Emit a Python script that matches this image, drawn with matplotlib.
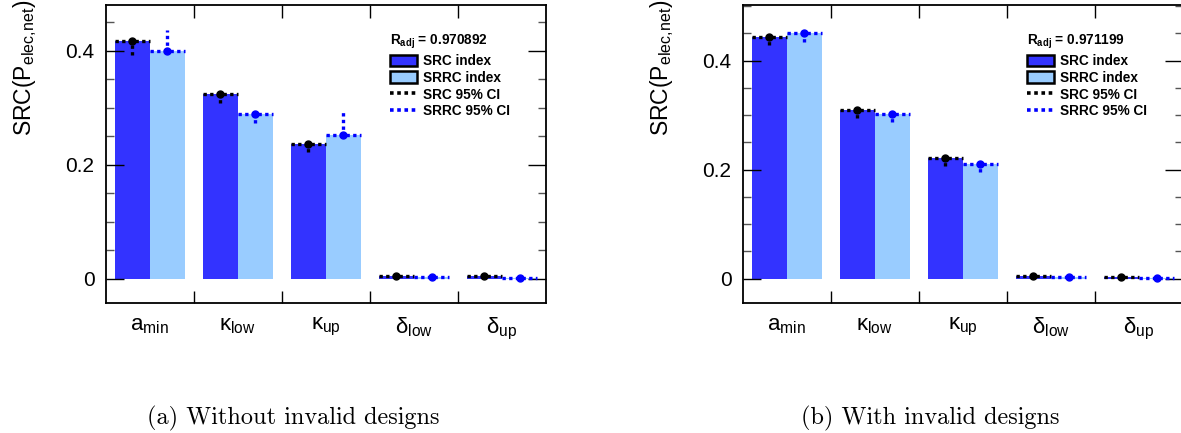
import matplotlib
matplotlib.use("Agg")
import matplotlib.pyplot as plt
from matplotlib.patches import Patch
from matplotlib.lines import Line2D
import numpy as np

plt.rcParams['font.family'] = ['Liberation Sans', 'DejaVu Sans']
plt.rcParams['mathtext.fontset'] = 'custom'
plt.rcParams['mathtext.rm'] = 'Liberation Sans'
plt.rcParams['mathtext.it'] = 'Liberation Sans'
plt.rcParams['mathtext.bf'] = 'Liberation Sans:bold'

# ---------------- data ----------------
categories = [r'$\mathregular{a_{min}}$', r'$\mathregular{κ_{low}}$', r'$\mathregular{κ_{up}}$',
              r'$\mathregular{δ_{low}}$', r'$\mathregular{δ_{up}}$']

# (a) without invalid designs
src_a = [0.4175, 0.3235, 0.236, 0.005, 0.004]
src_a_lo = [0.392, 0.309, 0.222, 0.004, 0.003]
src_a_hi = [0.420, 0.325, 0.238, 0.006, 0.005]
srrc_a = [0.400, 0.289, 0.2526, 0.003, 0.002]
srrc_a_lo = [0.398, 0.274, 0.251, 0.002, 0.001]
srrc_a_hi = [0.436, 0.291, 0.293, 0.004, 0.003]
radj_a = "0.970892"

# (b) with invalid designs
src_b = [0.444, 0.309, 0.2215, 0.005, 0.003]
src_b_lo = [0.428, 0.294, 0.207, 0.004, 0.002]
src_b_hi = [0.447, 0.311, 0.224, 0.006, 0.004]
srrc_b = [0.450, 0.302, 0.211, 0.004, 0.002]
srrc_b_lo = [0.434, 0.2875, 0.196, 0.003, 0.001]
srrc_b_hi = [0.452, 0.304, 0.213, 0.005, 0.003]
radj_b = "0.971199"

ytick_vals = [0, 0.2, 0.4]
ytick_labels = ['0', '0.2', '0.4']
captions = ['(a) Without invalid designs', '(b) With invalid designs']
legend_labels = ['SRC index', 'SRRC index', 'SRC 95% CI', 'SRRC 95% CI']

SRC_COL = '#3333ff'
SRRC_COL = '#99ccff'
CI_BLUE = '#0000ff'

W, H = 1181, 433
fig = plt.figure(figsize=(W / 100, H / 100), dpi=100)

ax_w = 440.3 / W
ax_h = 298.3 / H
ax_b = (H - 303) / H
axes_left = [105.7 / W, 742.7 / W]
caption_x = [293 / W, 930 / W]
ylims = [(-0.0426, 0.4807), (-0.0446, 0.5028)]

panels = [
    (src_a, src_a_lo, src_a_hi, srrc_a, srrc_a_lo, srrc_a_hi, radj_a),
    (src_b, src_b_lo, src_b_hi, srrc_b, srrc_b_lo, srrc_b_hi, radj_b),
]

dotted = (0, (1, 1))

for i, (src, slo, shi, srrc, rlo, rhi, radj) in enumerate(panels):
    ax = fig.add_axes([axes_left[i], ax_b, ax_w, ax_h])
    x = np.arange(len(categories)) + 0.5
    src = np.array(src); srrc = np.array(srrc)
    slo = np.array(slo); shi = np.array(shi)
    rlo = np.array(rlo); rhi = np.array(rhi)
    ax.bar(x - 0.2, src, width=0.4, color=SRC_COL, linewidth=0, zorder=1)
    ax.bar(x + 0.2, srrc, width=0.4, color=SRRC_COL, linewidth=0, zorder=1)
    for xx, v, lo, hi, col in ((x - 0.2, src, slo, shi, 'black'), (x + 0.2, srrc, rlo, rhi, CI_BLUE)):
        eb = ax.errorbar(xx, v, xerr=0.2, yerr=[v - lo, hi - v], fmt='o', color=col,
                         markersize=5, elinewidth=2.4, capsize=0, zorder=3)
        for lc in eb[2]:
            lc.set_linestyle(dotted)
            lc.set_capstyle('butt')

    ax.set_xlim(0, 5)
    ax.set_ylim(*ylims[i])
    ax.set_xticks([1, 2, 3, 4])
    ax.set_xticklabels([])
    ax.set_xticks(x, categories, minor=True)
    ax.tick_params(axis='x', which='major', direction='in', length=9, width=1,
                   top=True, bottom=True)
    ax.tick_params(axis='x', which='minor', length=0, labelsize=16, pad=9)
    ax.set_yticks(ytick_vals, ytick_labels)
    ax.set_yticks(np.arange(0, ylims[i][1], 0.05), minor=True)
    ax.tick_params(axis='y', which='major', direction='in', length=13, width=1,
                   left=True, right=True, labelsize=15, pad=8)
    ax.tick_params(axis='y', which='minor', direction='in', length=6, width=1,
                   left=True, right=True, color='#555555')
    for s in ax.spines.values():
        s.set_linewidth(1.3)

    ax.set_ylabel(r'SRC(P$_{\mathregular{elec{,}net}}$)', fontsize=16.5, loc='top')
    ax.yaxis.set_label_coords(-0.152, 1.018)

    handles = [
        Patch(facecolor=SRC_COL, edgecolor='black', linewidth=1.8),
        Patch(facecolor=SRRC_COL, edgecolor='black', linewidth=1.8),
        Line2D([], [], color='black', linestyle=dotted, linewidth=2.6, dash_capstyle='butt'),
        Line2D([], [], color=CI_BLUE, linestyle=dotted, linewidth=2.6, dash_capstyle='butt'),
    ]
    leg = ax.legend(handles, legend_labels, title=r'$\mathbf{R_{adj}}$ = ' + radj,
                    loc='upper left', bbox_to_anchor=(0.645, 0.905), frameon=False,
                    prop={'weight': 'bold', 'size': 9.8},
                    title_fontproperties={'weight': 'bold', 'size': 9.8},
                    handlelength=2.0, handleheight=0.95, handletextpad=0.45,
                    labelspacing=0.2, borderpad=0, borderaxespad=0)
    leg._legend_box.align = 'left'
    leg._legend_box.sep = 2

    fig.text(caption_x[i], 1 - 418 / H, captions[i],
             family='cmr10', fontsize=17.5, ha='center', va='center')

fig.savefig('out.png', dpi=100)
